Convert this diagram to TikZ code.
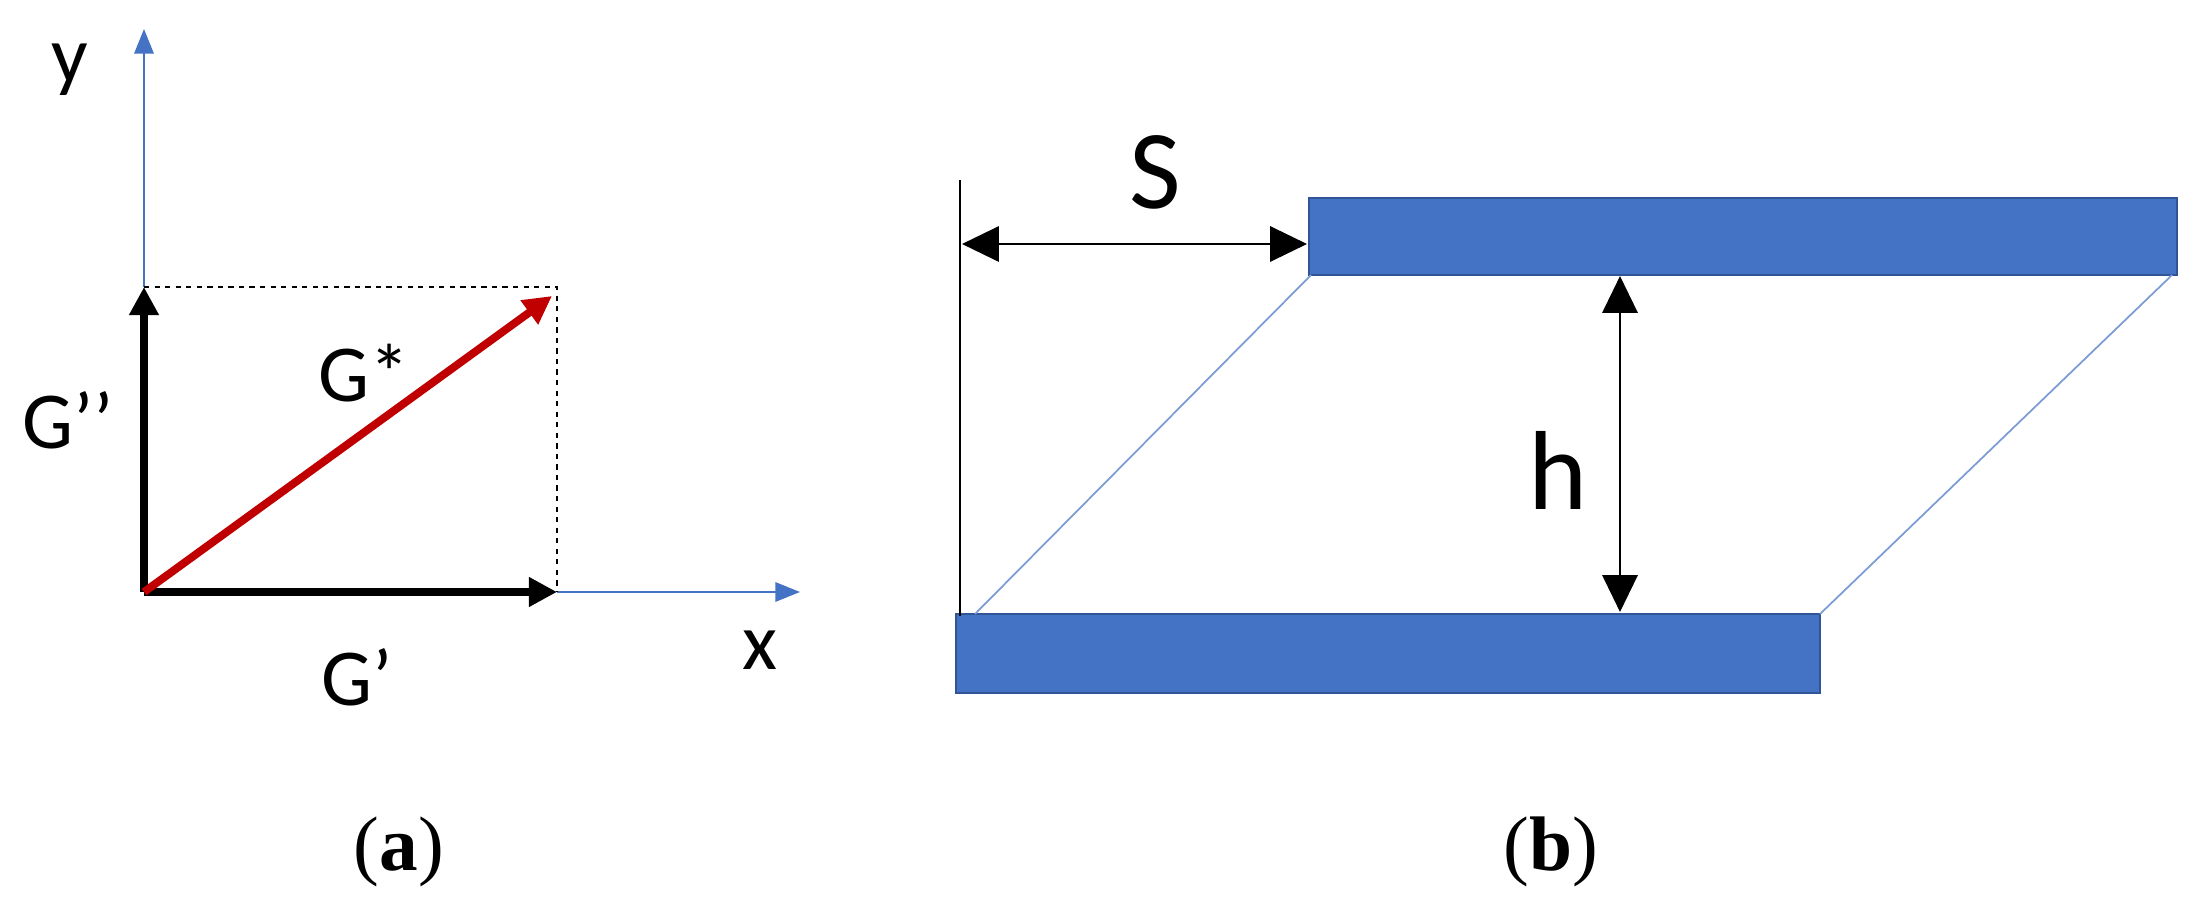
\documentclass[tikz,border=0pt]{standalone}
\usepackage{fontspec}
\setmainfont{Carlito}
\newfontfamily\capfont{Liberation Serif}
\usetikzlibrary{arrows.meta}
\definecolor{ablue}{HTML}{4472C4}
\definecolor{dblue}{HTML}{2F5597}
\definecolor{ared}{HTML}{C00000}
\begin{document}
\begin{tikzpicture}[x=0.02cm,y=-0.02cm,
  lab/.style={font=\fontsize{46}{50}\selectfont},
  big/.style={font=\fontsize{64}{70}\selectfont},
  captxt/.style={font=\capfont\fontsize{44}{48}\selectfont},
  axis/.style={ablue,line width=1.2pt,-{Triangle[length=14pt,width=11pt]}},
  comp/.style={black,line width=4.5pt,-{Triangle[length=16pt,width=16pt]}},
  plate/.style={fill=ablue,draw=dblue,line width=1.5pt},
  thinline/.style={ablue!70,line width=1pt},
  dim/.style={black,line width=1.6pt,{Triangle[length=21pt,width=20pt]}-{Triangle[length=21pt,width=20pt]}}]
\useasboundingbox (0,0) rectangle (2194,915);
% panel a
\coordinate (O) at (144,592);
\coordinate (GY) at (144,287);
\coordinate (GX) at (557,592);
\coordinate (C) at (557,287);
\coordinate (YT) at (144,29);
\coordinate (XT) at (800,592);
\coordinate (R) at (552,296);
\draw[axis] (GY) -- (YT);
\draw[axis] (GX) -- (XT);
\draw[dashed,line width=0.9pt] (GY) -- (C) -- (GX);
\draw[comp] (O) -- (GY);
\draw[comp] (O) -- (GX);
\draw[ared,line width=4.5pt,-{Triangle[length=16pt,width=16pt]}] (O) -- (R);
\node[lab] (ly) at (70,70) {y};
\node[lab] (lgpp) at (68,420) {G’’};
\node[lab] (lgs) at (364,373) {G*};
\node[lab] (lgp) at (357,677) {G’};
\node[lab] (lx) at (760,650) {x};
\node[captxt] (ca) at (399,852) {(\textbf{a})};
% panel b
\path[plate] (1309,198) rectangle (2177,275);
\path[plate] (956,614) rectangle (1820,693);
\coordinate (TL) at (1311,275);
\coordinate (TR) at (2172,275);
\coordinate (BL) at (975,614);
\coordinate (BR) at (1820,614);
\draw[thinline] (TL) -- (BL);
\draw[thinline] (TR) -- (BR);
\coordinate (VT) at (960,180);
\coordinate (VB) at (960,616);
\draw[black,line width=1.3pt] (VT) -- (VB);
\coordinate (S1) at (962,244);
\coordinate (S2) at (1307,244);
\draw[dim] (S1) -- (S2);
\coordinate (H1) at (1620,276);
\coordinate (H2) at (1620,612);
\draw[dim] (H1) -- (H2);
\node[big] (lS) at (1155,172) {S};
\node[big] (lh) at (1558,470) {h};
\node[captxt] (cb) at (1551,852) {(\textbf{b})};
\end{tikzpicture}
\end{document}
